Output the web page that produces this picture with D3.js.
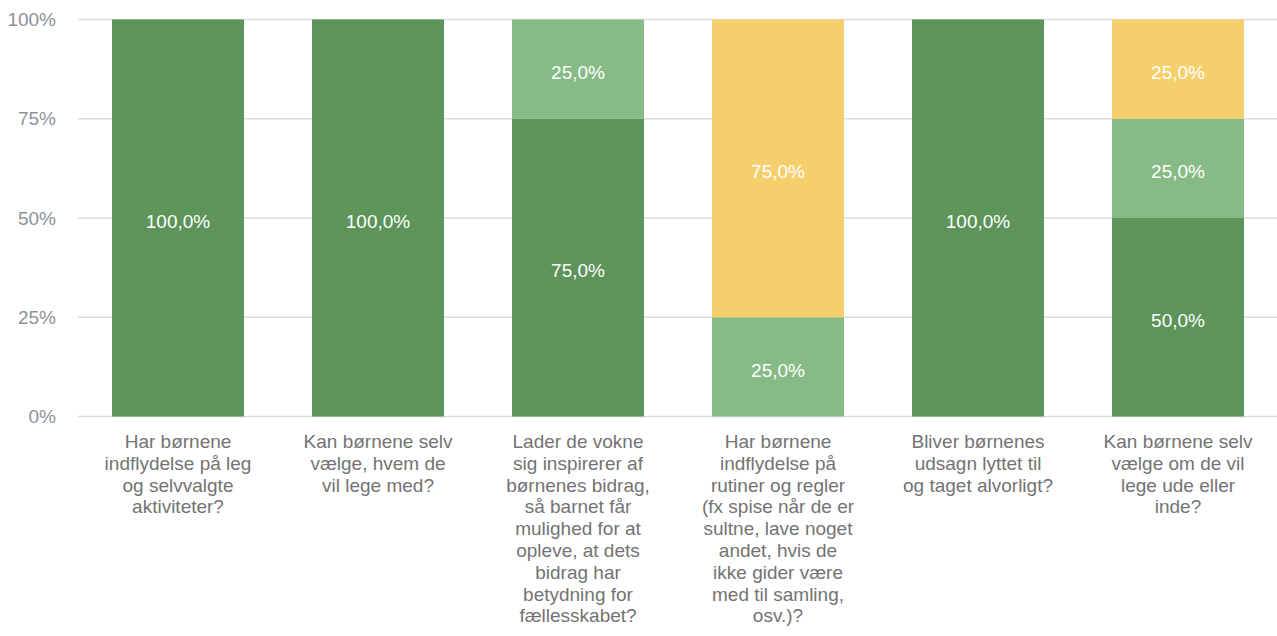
<!DOCTYPE html>
<html>
<head>
<meta charset="utf-8">
<script src="https://cdn.jsdelivr.net/npm/d3@7"></script>
<style>
  body { margin: 0; background: #fff; }
  svg { font-family: "Liberation Sans", Arial, sans-serif; }
</style>
</head>
<body>
<svg id="chart" width="1277" height="636"></svg>
<script>
const categories = [
  ['Har børnene', 'indflydelse på leg', 'og selvvalgte', 'aktiviteter?'],
  ['Kan børnene selv', 'vælge, hvem de', 'vil lege med?'],
  ['Lader de vokne', 'sig inspirerer af', 'børnenes bidrag,', 'så barnet får', 'mulighed for at', 'opleve, at dets', 'bidrag har', 'betydning for', 'fællesskabet?'],
  ['Har børnene', 'indflydelse på', 'rutiner og regler', '(fx spise når de er', 'sultne, lave noget', 'andet, hvis de', 'ikke gider være', 'med til samling,', 'osv.)?'],
  ['Bliver børnenes', 'udsagn lyttet til', 'og taget alvorligt?'],
  ['Kan børnene selv', 'vælge om de vil', 'lege ude eller', 'inde?']
];

// stacked from bottom to top
const seriesNames = ['dark', 'light', 'yellow'];
const darkValues = [100, 100, 75, 0, 100, 50];
const lightValues = [0, 0, 25, 25, 0, 25];
const yellowValues = [0, 0, 0, 75, 0, 25];
const seriesColors = ['#5c9459', '#86bb85', '#f4cf6b'];

const yTicks = [0, 25, 50, 75, 100];

const svg = d3.select('#chart');

const x = d3.scaleBand()
  .domain(d3.range(categories.length))
  .range([78, 1278])
  .paddingInner(0.34)
  .paddingOuter(0.17);

const y = d3.scaleLinear()
  .domain([0, 100])
  .range([416.5, 19.5]);

const rows = categories.map((c, i) => ({
  i: i,
  dark: darkValues[i],
  light: lightValues[i],
  yellow: yellowValues[i]
}));

const stack = d3.stack().keys(seriesNames);
const stacked = stack(rows);

// gridlines
svg.append('g')
  .selectAll('line')
  .data(yTicks)
  .join('line')
  .attr('x1', 78)
  .attr('x2', 1277)
  .attr('y1', (d) => y(d))
  .attr('y2', (d) => y(d))
  .attr('stroke', '#dcdcdc')
  .attr('stroke-width', 1.3);

// y axis labels
const yAxis = d3.axisLeft(y)
  .tickValues(yTicks)
  .tickFormat((d) => d + '%')
  .tickSize(0)
  .tickPadding(22);

svg.append('g')
  .attr('transform', 'translate(78,0)')
  .call(yAxis)
  .call((g) => g.select('.domain').remove())
  .selectAll('text')
  .attr('fill', '#8b939c')
  .style('font-size', '19px')
  .style('font-family', '"Liberation Sans", Arial, sans-serif');

// bars
const layers = svg.append('g')
  .selectAll('g')
  .data(stacked)
  .join('g')
  .attr('fill', (d, k) => seriesColors[k]);

layers.selectAll('rect')
  .data((d) => d)
  .join('rect')
  .attr('x', (d) => x(d.data.i))
  .attr('width', x.bandwidth())
  .attr('y', (d) => y(d[1]))
  .attr('height', (d) => y(d[0]) - y(d[1]));

// value labels
layers.selectAll('text')
  .data((d) => d.filter((s) => s[1] - s[0] > 0))
  .join('text')
  .attr('x', (d) => x(d.data.i) + x.bandwidth() / 2)
  .attr('y', (d) => (y(d[0]) + y(d[1])) / 2 + 3)
  .attr('dy', '0.36em')
  .attr('text-anchor', 'middle')
  .attr('fill', '#fff')
  .style('font-size', '19px')
  .text((d) => (d[1] - d[0]).toFixed(1).replace('.', ',') + '%');

// category labels
const labels = svg.append('g')
  .selectAll('text')
  .data(categories)
  .join('text')
  .attr('text-anchor', 'middle')
  .attr('fill', '#737373')
  .style('font-size', '19px')
  .attr('transform', (d, i) => `translate(${x(i) + x.bandwidth() / 2},448)`);

labels.selectAll('tspan')
  .data((d) => d)
  .join('tspan')
  .attr('x', 0)
  .attr('y', (d, j) => j * 21.8)
  .text((d) => d);
</script>
</body>
</html>
